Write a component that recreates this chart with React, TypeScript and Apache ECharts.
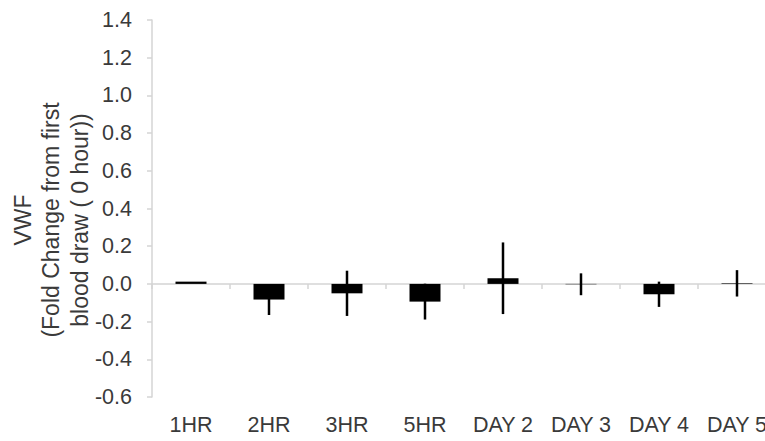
import React, { useEffect, useRef } from "react";
import * as echarts from "echarts";

const categories = ["1HR", "2HR", "3HR", "5HR", "DAY 2", "DAY 3", "DAY 4", "DAY 5"];
const means = [0.012, -0.083, -0.05, -0.094, 0.03, -0.002, -0.055, 0.003];
const errors = [0, 0.082, 0.12, 0.095, 0.19, 0.058, 0.067, 0.07];
const yTitle = "VWF\n(Fold Change from first\nblood draw ( 0 hour))";

const FONT = '"Liberation Sans", Arial, sans-serif';
const TEXT = "#3a3a3a";
const AXIS = "#d4d4d4";

export default function App() {
  const ref = useRef<HTMLDivElement>(null);
  useEffect(() => {
    if (!ref.current) return;
    const chart = echarts.init(ref.current, undefined, { renderer: "svg" });
    const errData = categories.map((_, i) => [i, means[i] - errors[i], means[i] + errors[i]]);
    chart.setOption({
      animation: false,
      backgroundColor: "#ffffff",
      grid: { left: 152, top: 20, width: 624, height: 377, containLabel: false },
      xAxis: [
        {
          type: "category",
          data: categories,
          position: "bottom",
          axisLine: { show: false, onZero: false },
          axisTick: { show: false },
          axisLabel: { interval: 0, fontSize: 21.5, fontFamily: FONT, color: TEXT, margin: 17, hideOverlap: false },
          splitLine: { show: false },
        },
        {
          type: "category",
          data: categories,
          position: "bottom",
          axisLine: { show: true, onZero: true, lineStyle: { color: AXIS, width: 1.5 } },
          axisTick: { show: true, interval: 0, length: 5, lineStyle: { color: AXIS, width: 1.5 } },
          axisLabel: { show: false },
          splitLine: { show: false },
        },
      ],
      yAxis: {
        type: "value",
        min: -0.6,
        max: 1.4,
        interval: 0.2,
        axisLine: { show: true, lineStyle: { color: AXIS, width: 1.5 } },
        axisTick: { show: true, length: 5, lineStyle: { color: AXIS, width: 1.5 } },
        splitLine: { show: false },
        axisLabel: {
          fontSize: 21.5,
          fontFamily: FONT,
          color: TEXT,
          margin: 20,
          formatter: (v: number) => v.toFixed(1),
        },
      },
      graphic: [
        {
          type: "text",
          x: 51,
          y: 220,
          rotation: Math.PI / 2,
          style: {
            text: yTitle,
            align: "center",
            verticalAlign: "middle",
            fontSize: 23,
            fontFamily: FONT,
            fill: TEXT,
            lineHeight: 28.5,
          },
        },
      ],
      series: [
        {
          type: "bar",
          xAxisIndex: 1,
          data: means,
          barWidth: 31,
          itemStyle: { color: "#000000" },
        },
        {
          type: "custom",
          xAxisIndex: 1,
          data: errData,
          z: 3,
          renderItem: (params: any, api: any) => {
            const x = api.value(0);
            const lo = api.coord([x, api.value(1)]);
            const hi = api.coord([x, api.value(2)]);
            return {
              type: "line",
              shape: { x1: lo[0], y1: lo[1], x2: hi[0], y2: hi[1] },
              style: { stroke: "#000000", lineWidth: 2.5 },
            };
          },
        },
      ],
    });
    return () => chart.dispose();
  }, []);
  return (
    <div
      style={{ position: "fixed", left: 0, top: 0, width: 765, height: 441, overflow: "hidden", background: "#fff" }}
    >
      <div ref={ref} style={{ width: 800, height: 441 }} />
    </div>
  );
}
